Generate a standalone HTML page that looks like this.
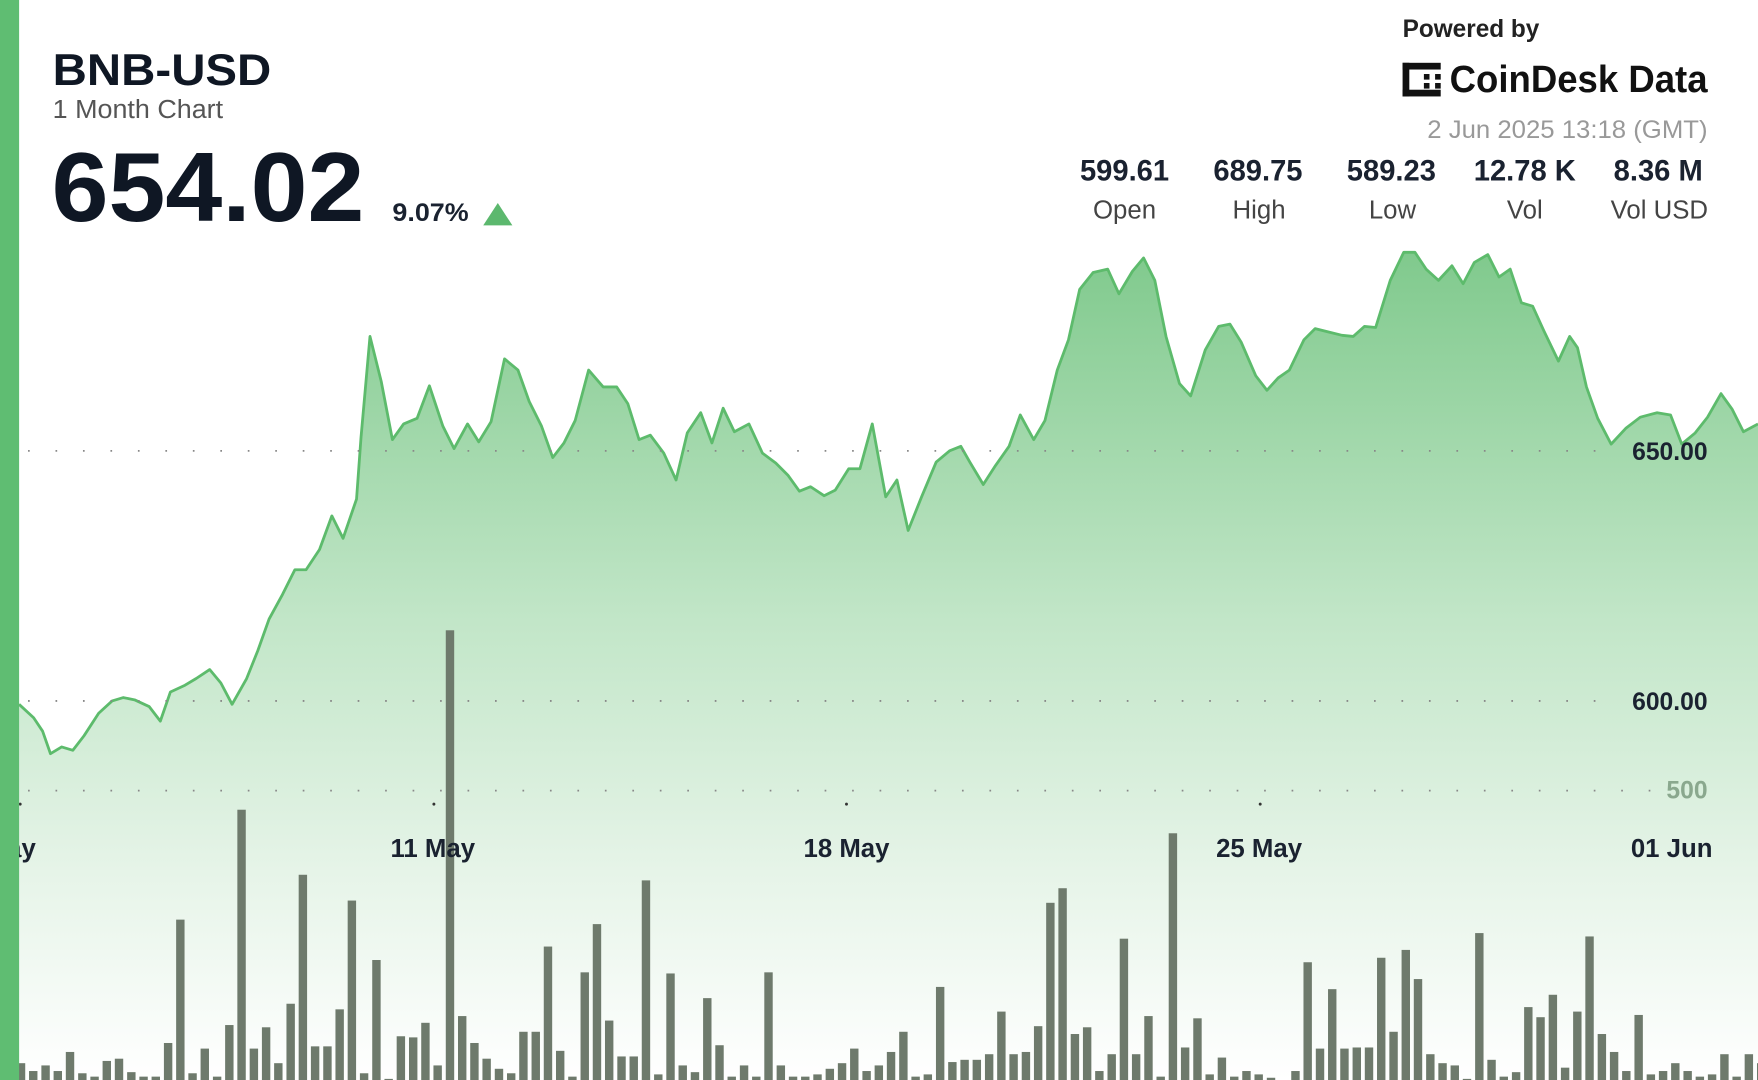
<!DOCTYPE html>
<html><head><meta charset="utf-8"><style>
html,body{margin:0;padding:0;background:#fff;width:1758px;height:1080px;overflow:hidden}
svg{display:block}
text{font-family:"Liberation Sans",sans-serif}
</style></head><body>
<svg id="s" width="1758" height="1080" viewBox="0 0 1568 963" preserveAspectRatio="none" xmlns="http://www.w3.org/2000/svg">
<defs>
<linearGradient id="g" x1="0" y1="220" x2="0" y2="963" gradientUnits="userSpaceOnUse">
<stop offset="0" stop-color="#7fc98c"/>
<stop offset="0.45" stop-color="#c2e6c8"/>
<stop offset="0.75" stop-color="#e6f4e8"/>
<stop offset="1" stop-color="#ffffff"/>
</linearGradient>
</defs>
<rect width="1568" height="963" fill="#fff"/>
<path id="area" fill="url(#g)"/>
<g id="vol" fill="#6e7a6c"></g>
<path id="line" fill="none" stroke="#5dbb6c" stroke-width="2.5" stroke-linejoin="round"/>
<g stroke="#888" stroke-width="1.6" stroke-dasharray="1.5 23">
<line x1="25" y1="402" x2="1440" y2="402"/>
<line x1="25" y1="625" x2="1440" y2="625"/>
<line x1="25" y1="705" x2="1480" y2="705"/>
</g>
<g fill="#333"><circle cx="387" cy="717" r="1.3"/><circle cx="755" cy="717" r="1.3"/><circle cx="1124" cy="717" r="1.3"/><circle cx="18" cy="717" r="1.3"/></g>
<rect x="0" y="0" width="17" height="963" fill="#5fbd72"/>
<text x="47" y="76" font-size="40" font-weight="bold" fill="#0f1724" textLength="195" lengthAdjust="spacingAndGlyphs">BNB-USD</text>
<text x="47" y="105" font-size="23" fill="#555" textLength="152" lengthAdjust="spacingAndGlyphs">1 Month Chart</text>
<text x="46" y="197" font-size="88" font-weight="bold" fill="#0f1724" textLength="279" lengthAdjust="spacingAndGlyphs">654.02</text>
<text x="350" y="197" font-size="22" font-weight="bold" fill="#1a2230" textLength="68" lengthAdjust="spacingAndGlyphs">9.07%</text>
<polygon points="431,201 457,201 444,181" fill="#5cb86e"/>
<text x="1251" y="33" font-size="22" font-weight="bold" fill="#222" textLength="122" lengthAdjust="spacingAndGlyphs">Powered by</text>
<g fill="#111">
<rect x="1251" y="56" width="6" height="30"/><rect x="1251" y="56" width="34" height="6"/><rect x="1251" y="80" width="34" height="6"/>
<rect x="1270" y="66" width="5" height="5"/><rect x="1270" y="74" width="5" height="5"/><rect x="1280" y="66" width="5" height="5"/><rect x="1280" y="74" width="5" height="5"/>
</g>
<text x="1293" y="82" font-size="34" font-weight="bold" fill="#111" textLength="230" lengthAdjust="spacingAndGlyphs">CoinDesk Data</text>
<text x="1523" y="123" font-size="22" fill="#999" text-anchor="end" textLength="250" lengthAdjust="spacingAndGlyphs">2 Jun 2025 13:18 (GMT)</text>
<g font-size="26" font-weight="bold" fill="#1a2230" text-anchor="middle">
<text x="1003" y="161">599.61</text><text x="1122" y="161">689.75</text><text x="1241" y="161">589.23</text><text x="1360" y="161">12.78 K</text><text x="1479" y="161">8.36 M</text>
</g>
<g font-size="23" fill="#444" text-anchor="middle">
<text x="1003" y="195">Open</text><text x="1123" y="195">High</text><text x="1242" y="195">Low</text><text x="1360" y="195">Vol</text><text x="1480" y="195">Vol USD</text>
</g>
<g font-size="22" font-weight="bold" fill="#1a2230" text-anchor="end">
<text x="1523" y="410">650.00</text><text x="1523" y="633">600.00</text>
<text x="1523" y="712" fill="#8aa88e">500</text>
</g>
<g font-size="23" font-weight="bold" fill="#1a2230" text-anchor="middle">
<text x="386" y="764">11 May</text><text x="755" y="764">18 May</text><text x="1123" y="764">25 May</text><text x="1491" y="764">01 Jun</text>
<text x="0" y="764" text-anchor="middle">4 May</text>
</g>
<rect x="0" y="0" width="17" height="963" fill="#5fbd72"/>
</svg>
<script>
var P=[[17,628],[30,640],[38,652],[45,672],[55,666],[65,669],[75,656],[88,636],[100,625],[110,622],[120,624],[133,630],[143,643],[152,617],[165,611],[175,605],[187,597],[197,609],[207,628],[220,605],[230,580],[240,552],[252,530],[263,508],[273,508],[285,490],[296,460],[306,480],[318,445],[322,390],[330,300],[340,340],[350,392],[360,378],[372,373],[383,344],[395,380],[405,400],[417,378],[427,394],[438,376],[450,320],[462,330],[472,358],[483,380],[493,408],[503,395],[513,375],[525,330],[538,345],[550,345],[560,360],[570,392],[580,388],[592,404],[603,428],[613,386],[625,368],[635,395],[645,364],[655,385],[668,378],[680,404],[692,413],[703,424],[713,438],[723,434],[735,442],[745,437],[757,418],[767,418],[778,378],[790,443],[800,428],[810,473],[822,443],[835,412],[847,402],[857,398],[865,412],[877,432],[888,415],[900,398],[910,370],[922,392],[932,375],[943,330],[953,303],[963,258],[975,243],[988,240],[998,262],[1010,242],[1020,230],[1030,250],[1040,300],[1052,342],[1062,353],[1075,312],[1087,291],[1097,289],[1107,305],[1120,335],[1130,348],[1140,337],[1150,330],[1163,303],[1173,293],[1185,296],[1197,299],[1207,300],[1217,291],[1227,292],[1240,250],[1252,225],[1262,225],[1272,240],[1283,250],[1295,237],[1305,253],[1315,234],[1327,227],[1337,247],[1347,240],[1357,270],[1367,273],[1377,295],[1390,322],[1400,300],[1407,310],[1415,345],[1425,373],[1437,396],[1450,382],[1463,372],[1478,368],[1490,370],[1500,396],[1512,386],[1523,372],[1535,351],[1545,365],[1555,385],[1568,378]];
var d="M"+P.map(function(p){return p.join(",")}).join("L");
document.getElementById("line").setAttribute("d",d);
document.getElementById("area").setAttribute("d",d+"L1568,963L17,963Z");
var V=[948,955,950,955,938,957,960,946,944,956,960,960,930,820,957,935,960,914,722,935,916,948,895,780,933,933,900,803,957,856,962,924,925,912,950,562,906,930,944,953,957,920,920,844,937,960,867,824,910,942,942,785,958,868,950,956,890,932,960,950,960,867,950,960,960,958,953,948,935,955,950,938,920,960,958,880,947,945,945,940,902,940,938,915,805,792,922,916,955,940,837,940,906,960,743,934,908,958,943,960,955,958,961,963,955,858,935,882,935,934,934,854,920,847,873,940,948,950,962,832,945,960,956,898,907,887,952,902,835,922,938,955,905,958,955,948,955,960,958,940,960,940,948];
var g=document.getElementById("vol"),h="";
for(var i=0;i<V.length;i++){var x=15+i*10.93;h+='<rect x="'+x.toFixed(1)+'" y="'+V[i]+'" width="7.5" height="'+(963-V[i])+'"/>';}
g.innerHTML=h;
</script>
</body></html>
